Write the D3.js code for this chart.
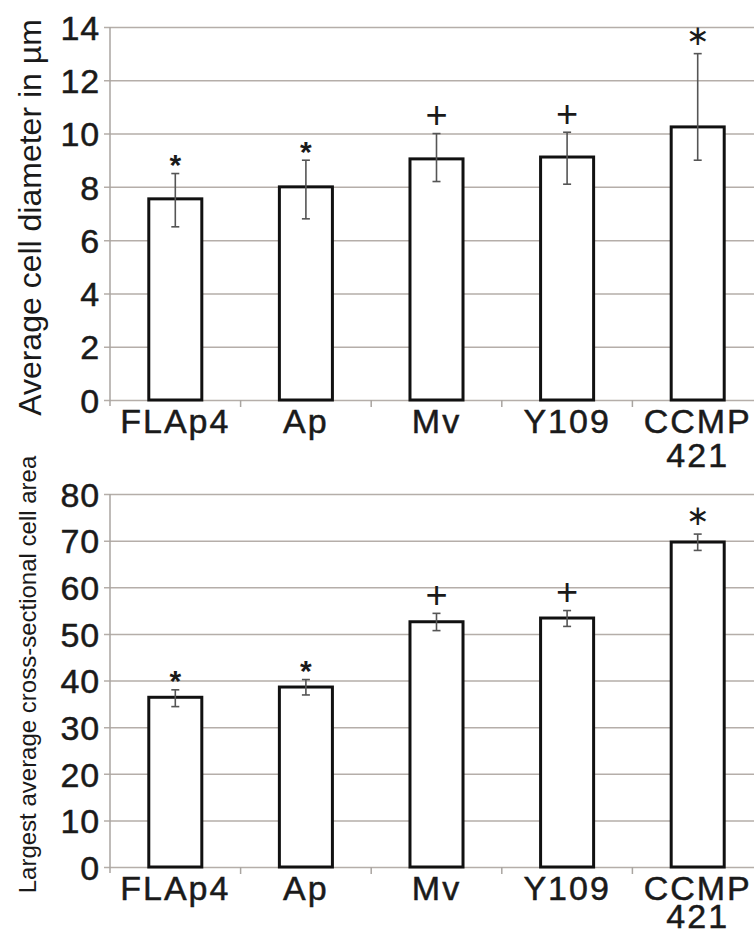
<!DOCTYPE html>
<html><head><meta charset="utf-8">
<script src="https://cdn.jsdelivr.net/npm/d3@7"></script>
<style>
html,body{margin:0;padding:0;background:#fff;}
text{font-family:"Liberation Sans",Arial,Helvetica,sans-serif;fill:#1a1a1a;}
</style></head>
<body>
<svg id="chart" width="754" height="933"></svg>
<script>
// ---- data ----
const categories = ["FLAp4", "Ap", "Mv", "Y109", "CCMP\n421"];
const diameterTicks = [0, 2, 4, 6, 8, 10, 12, 14];
const diameter = [7.55, 8.0, 9.05, 9.12, 10.25];
const diameterLow = [6.5, 6.8, 8.2, 8.1, 9.0];
const diameterHigh = [8.5, 9.0, 10.0, 10.05, 13.0];
const areaTicks = [0, 10, 20, 30, 40, 50, 60, 70, 80];
const area = [36.4, 38.6, 52.6, 53.4, 69.7];
const areaLow = [34.4, 36.9, 50.7, 51.6, 67.9];
const areaHigh = [38.0, 40.2, 54.4, 55.0, 71.4];
const marks = ["*", "*", "+", "+", "∗"];

const svg = d3.select("#chart");

function panel(opts) {
  const {values, low, high, ticks, yMax, y0, y1, title, titleSize, titleX, lineGap} = opts;
  const g = svg.append("g");
  const x = d3.scaleBand().domain(categories).range([110, 110 + 5 * 130.6])
    .paddingInner(0.594).paddingOuter(0.297);
  const y = d3.scaleLinear().domain([0, yMax]).range([y0, y1]);

  // gridlines + tick labels
  const yAxis = d3.axisLeft(y).tickValues(ticks).tickSize(-(754 - 104)).tickPadding(4)
    .tickFormat(d3.format("d"));
  const ga = g.append("g").attr("transform", "translate(104,0)").call(yAxis);
  ga.select(".domain").remove();
  ga.selectAll(".tick line").attr("stroke", "#b5aea9").attr("stroke-width", 1.5);
  ga.selectAll(".tick text").attr("x", -4).attr("font-size", 34).attr("fill", "#1a1a1a")
    .attr("stroke", "#1a1a1a").attr("stroke-width", 0.5)
    .attr("dy", "0.36em").attr("letter-spacing", 0.8);

  // y axis line
  g.append("line").attr("x1", 110).attr("x2", 110).attr("y1", y1).attr("y2", y0 + 6)
    .attr("stroke", "#aaa5a1").attr("stroke-width", 1.5);

  // category tick marks
  const step = x.step();
  g.selectAll(".ctick").data(d3.range(1, 5)).join("line")
    .attr("x1", i => 110 + i * step).attr("x2", i => 110 + i * step)
    .attr("y1", y0).attr("y2", y0 + 7).attr("stroke", "#aaa5a1").attr("stroke-width", 1.5);

  // bars
  g.selectAll(".bar").data(categories).join("rect")
    .attr("x", d => x(d)).attr("width", x.bandwidth())
    .attr("y", (d, i) => y(values[i])).attr("height", (d, i) => y(0) - y(values[i]))
    .attr("fill", "#fff").attr("stroke", "#111").attr("stroke-width", 3);

  // error bars
  const cx = d => x(d) + x.bandwidth() / 2;
  g.selectAll(".err").data(categories).join("line")
    .attr("x1", cx).attr("x2", cx)
    .attr("y1", (d, i) => y(low[i])).attr("y2", (d, i) => y(high[i]))
    .attr("stroke", "#555").attr("stroke-width", 1.6);
  [low, high].forEach(arr => {
    g.selectAll(null).data(categories).join("line")
      .attr("x1", d => cx(d) - 4).attr("x2", d => cx(d) + 4)
      .attr("y1", (d, i) => y(arr[i])).attr("y2", (d, i) => y(arr[i]))
      .attr("stroke", "#555").attr("stroke-width", 1.6);
  });

  // significance marks
  g.selectAll(".mark").data(categories).join("text")
    .attr("x", cx)
    .attr("y", (d, i) => {
      const m = marks[i];
      const c = y(high[i]) - 17;
      if (m === "*") return c + 0.62 * 30;
      if (m === "+") return c + 0.3 * 38;
      return c + 0.3 * 28;
    })
    .attr("text-anchor", "middle")
    .style("font-family", (d, i) => marks[i] === "∗" ? "DejaVu Sans" : null)
    .attr("font-size", (d, i) => marks[i] === "*" ? 30 : (marks[i] === "+" ? 38 : 28))
    .attr("font-weight", (d, i) => marks[i] === "*" ? "bold" : "normal")
    .attr("fill", (d, i) => marks[i] === "+" ? "#222" : "#222")
    .text((d, i) => marks[i]);

  // category labels
  const lab = g.selectAll(".clab").data(categories).join("text")
    .attr("text-anchor", "middle").attr("font-size", 34).attr("letter-spacing", 2)
    .attr("stroke", "#1a1a1a").attr("stroke-width", 0.5)
    .attr("transform", d => `translate(${cx(d)},${y0 + 33})`);
  lab.each(function(d) {
    const lines = d.split("\n");
    d3.select(this).selectAll("tspan").data(lines).join("tspan")
      .attr("x", 0).attr("y", (l, j) => j * lineGap).text(l => l);
  });

  // title
  g.append("text").attr("transform", `translate(${titleX},${(y0 + y1) / 2 + opts.titleShift}) rotate(-90)`)
    .attr("text-anchor", "middle").attr("font-size", titleSize).text(title);
}

panel({values: diameter, low: diameterLow, high: diameterHigh, ticks: diameterTicks, yMax: 14,
  y0: 400, y1: 27, title: "Average cell diameter in µm", titleSize: 32, titleX: 41, titleShift: 4,
  lineGap: 34});
panel({values: area, low: areaLow, high: areaHigh, ticks: areaTicks, yMax: 80,
  y0: 867, y1: 494, title: "Largest average cross-sectional cell area", titleSize: 24, titleX: 36, titleShift: -6,
  lineGap: 28});
</script>
</body></html>
